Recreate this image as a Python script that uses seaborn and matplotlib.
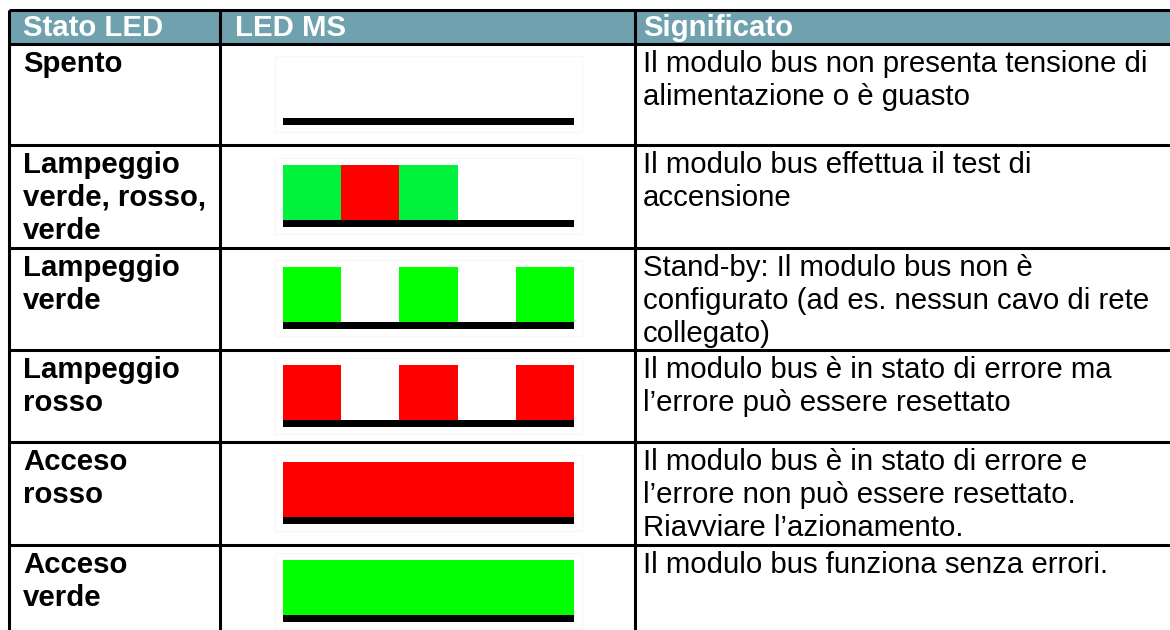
import numpy as np
import seaborn as sns
import matplotlib.pyplot as plt
from matplotlib.patches import Rectangle

"""Data"""

headers = ["Stato LED", "LED MS", "Significato"]

stati = ["Spento",
         "Lampeggio\nverde, rosso,\nverde",
         "Lampeggio\nverde",
         "Lampeggio\nrosso",
         "Acceso\nrosso",
         "Acceso\nverde"]

# one char per time slot of the LED: g/G = verde, R = rosso, - = spento
led_ms = ["-----", "gRg--", "G-G-G", "R-R-R", "RRRRR", "GGGGG"]

significato = ["Il modulo bus non presenta tensione di\nalimentazione o è guasto",
               "Il modulo bus effettua il test di\naccensione",
               "Stand-by: Il modulo bus non è\nconfigurato (ad es. nessun cavo di rete\ncollegato)",
               "Il modulo bus è in stato di errore ma\nl’errore può essere resettato",
               "Il modulo bus è in stato di errore e\nl’errore non può essere resettato.\nRiavviare l’azionamento.",
               "Il modulo bus funziona senza errori."]

"""Layout (pixels)"""

W, H = 1170, 630
row_tops = [44, 145, 248, 350, 442, 545]
header_top = 10
col_x = [8.5, 220, 635]
text_x = [23, 235, 643]
led_x0, led_x1 = 283, 574
led_bottom = [125, 227, 329, 427, 524, 622]
block_h, base_h = 55, 7
first_base, line_gap = 28, 33
fs = 21.2

colors = {"G": "#00ff00", "g": "#00f23c", "R": "#ff0000"}
header_col = "#6fa2ae"

sns.set_theme(style="white")
plt.rcParams['font.family'] = ['Liberation Sans', 'DejaVu Sans']

fig = plt.figure(figsize=(W / 100, H / 100), dpi=100)
ax = fig.add_axes([0, 0, 1, 1])
ax.set_xlim(0, W)
ax.set_ylim(H, 0)
ax.axis('off')

# header band
ax.add_patch(Rectangle((col_x[0], header_top), W - col_x[0], row_tops[0] - header_top,
                       color=header_col, lw=0, zorder=0))
for x, h in zip(text_x, headers):
    ax.text(x, header_top + 26.5, h, color='white', fontsize=fs, fontweight='bold',
            va='baseline', ha='left')


def put_lines(x, top, txt, **kw):
    for k, line in enumerate(txt.split("\n")):
        ax.text(x, top + first_base + k * line_gap, line, fontsize=fs,
                va='baseline', ha='left', color='black', **kw)


seg_w = (led_x1 - led_x0) / 5
for i, top in enumerate(row_tops):
    put_lines(text_x[0], top, stati[i], fontweight='bold')
    put_lines(text_x[2], top, significato[i])

    base = led_bottom[i]
    # faint picture frame
    ax.add_patch(Rectangle((led_x0 - 8, base - base_h - block_h - 7), led_x1 - led_x0 + 16,
                           base_h + block_h + 14, fill=False, ec='#f7f7f7', lw=0.8))
    # merge runs of same state into single bars
    pat = led_ms[i]
    j = 0
    while j < len(pat):
        k = j
        while k < len(pat) and pat[k] == pat[j]:
            k += 1
        if pat[j] != "-":
            ax.bar(led_x0 + j * seg_w, width=(k - j) * seg_w, bottom=base - base_h - block_h,
                   height=block_h, align='edge', color=colors[pat[j]], lw=0)
        j = k
    ax.bar(led_x0, width=led_x1 - led_x0, bottom=base - base_h, height=base_h,
           align='edge', color='black', lw=0)

# grid lines
lw = 2.2
ax.hlines([header_top] + row_tops, col_x[0], W, color='black', lw=lw)
ax.vlines(col_x, header_top, H, color='black', lw=lw)

plt.savefig("out.png", dpi=100)
